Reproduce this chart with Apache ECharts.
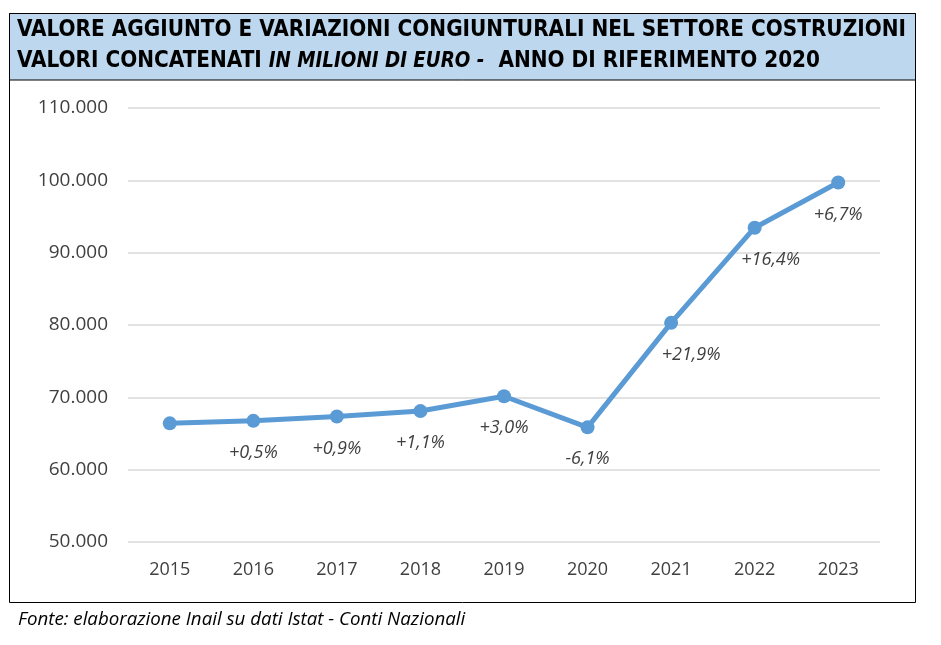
<!DOCTYPE html>
<html><head><meta charset="utf-8">
<script src="https://cdn.jsdelivr.net/npm/echarts@6/dist/echarts.min.js"></script>
<style>html,body{margin:0;padding:0;background:#fff}#c{width:941px;height:645px}</style>
</head><body><div id="c"></div>
<script>
const categories = ['2015','2016','2017','2018','2019','2020','2021','2022','2023'];
const values = [66400, 66750, 67350, 68100, 70150, 65850, 80300, 93450, 99700];
const changes = ['', '+0,5%', '+0,9%', '+1,1%', '+3,0%', '-6,1%', '+21,9%', '+16,4%', '+6,7%'];
const yMin = 50000, yMax = 110000, yStep = 10000;

const chart = echarts.init(document.getElementById('c'));
const labelShift = {6: [20, 0], 7: [16, 0]};
const seriesData = values.map((v, i) => {
  const item = {value: v};
  if (labelShift[i]) item.label = {offset: labelShift[i]};
  return item;
});
const titleFont = "'DejaVu Sans Condensed','DejaVu Sans',sans-serif";
chart.setOption({
  animation: false,
  graphic: [
    {type: 'rect', shape: {x: 9.5, y: 13.5, width: 906, height: 589}, style: {fill: '#fff', stroke: '#000', lineWidth: 1}, z: -10},
    {type: 'rect', shape: {x: 9.5, y: 13.5, width: 906, height: 66.5}, style: {fill: '#BDD7EE', stroke: '#000', lineWidth: 1}, z: -9},
    {type: 'text', x: 17, y: 19, scaleX: 0.97, style: {text: 'VALORE AGGIUNTO E VARIAZIONI CONGIUNTURALI NEL SETTORE COSTRUZIONI', font: "bold 23px " + titleFont, fill: '#000'}},
    {type: 'text', x: 17, y: 50, scaleX: 0.97, style: {
      text: '{a|VALORI CONCATENATI }{b|IN MILIONI DI EURO -}{a|  ANNO DI RIFERIMENTO 2020}',
      rich: {
        a: {fontFamily: titleFont, fontWeight: 'bold', fontSize: 23, fill: '#000', color: '#000'},
        b: {fontFamily: titleFont, fontWeight: 'bold', fontStyle: 'italic', fontSize: 21, fill: '#000', color: '#000'}
      }}},
    {type: 'text', x: 18, y: 610, scaleX: 0.985, style: {text: 'Fonte: elaborazione Inail su dati Istat - Conti Nazionali', font: "italic 19px 'Open Sans',sans-serif", fill: '#000'}}
  ],
  grid: {left: 128, right: 61, top: 108, bottom: 103},
  xAxis: {
    type: 'category', data: categories, boundaryGap: true,
    axisLine: {show: false}, axisTick: {show: false},
    axisLabel: {color: '#404040', fontSize: 18, fontFamily: "'Open Sans',sans-serif", margin: 19}
  },
  yAxis: {
    type: 'value', min: yMin, max: yMax, interval: yStep,
    axisLine: {show: false}, axisTick: {show: false},
    splitLine: {lineStyle: {color: '#d9d9d9', width: 1.5}},
    axisLabel: {color: '#404040', fontSize: 19, fontFamily: "'Open Sans',sans-serif", margin: 20,
      formatter: v => v.toLocaleString('de-DE')}
  },
  series: [{
    type: 'line', data: seriesData,
    lineStyle: {color: '#5B9BD5', width: 5},
    itemStyle: {color: '#5B9BD5'},
    symbol: 'circle', symbolSize: 14,
    label: {show: true, position: 'bottom', distance: 16,
      formatter: p => changes[p.dataIndex],
      fontStyle: 'italic', fontSize: 18, color: '#404040', fontFamily: "'Open Sans',sans-serif"}
  }]
});
</script></body></html>
